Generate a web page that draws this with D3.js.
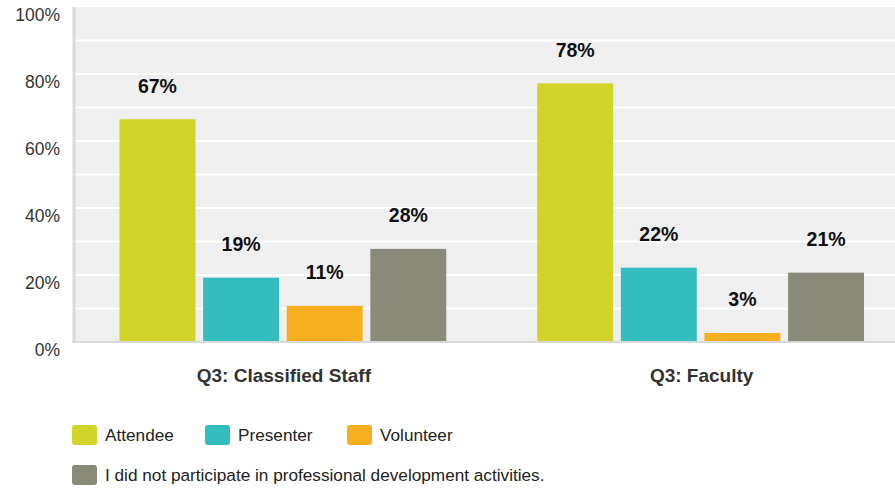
<!DOCTYPE html>
<html>
<head>
<meta charset="utf-8">
<script src="https://cdn.jsdelivr.net/npm/d3@7"></script>
<style>
  html, body { margin: 0; padding: 0; background: #fff; }
  svg { display: block; font-family: Arial, "Liberation Sans", sans-serif; }
</style>
</head>
<body>
<svg id="chart" width="895" height="488"></svg>
<script>
const categories = ["Q3: Classified Staff", "Q3: Faculty"];
const seriesNames = ["Attendee", "Presenter", "Volunteer", "I did not participate in professional development activities."];
const seriesColors = ["#d0d428", "#33bdbf", "#f6b01f", "#8a8a79"];
const attendee = [66.5, 77.2];
const presenter = [19.2, 22.2];
const volunteer = [10.8, 2.7];
const notParticipated = [27.8, 20.7];
const barLabels = [["67%", "19%", "11%", "28%"], ["78%", "22%", "3%", "21%"]];
const yTickValues = [0, 20, 40, 60, 80, 100];
const yTickLabels = ["0%", "20%", "40%", "60%", "80%", "100%"];
const gridValues = [10, 20, 30, 40, 50, 60, 70, 80, 90];

const seriesValues = [attendee, presenter, volunteer, notParticipated];
const data = categories.map((c, i) => ({
  category: c,
  bars: seriesNames.map((s, j) => ({ series: s, value: seriesValues[j][i], label: barLabels[i][j], color: seriesColors[j] }))
}));

const svg = d3.select("#chart");
const plotLeft = 74, plotRight = 909.5, plotTop = 7, plotBottom = 342;

const y = d3.scaleLinear().domain([0, 100]).range([plotBottom, plotTop]);
const x0 = d3.scaleBand().domain(categories).range([plotLeft, plotRight]).padding(0);
const x1 = d3.scaleBand().domain(seriesNames).range([0, x0.bandwidth()]).paddingInner(0.092).paddingOuter(0.544);

// background
svg.append("rect").attr("x", plotLeft).attr("y", plotTop)
  .attr("width", 895 - plotLeft).attr("height", plotBottom - plotTop)
  .attr("fill", "#efefef");

// gridlines
svg.append("g").selectAll("line").data(gridValues).join("line")
  .attr("x1", plotLeft).attr("x2", 895)
  .attr("y1", d => y(d)).attr("y2", d => y(d))
  .attr("stroke", "#ffffff").attr("stroke-width", 2);

// y axis labels
const yAxis = d3.axisLeft(y).tickValues(yTickValues).tickSize(0).tickPadding(0)
  .tickFormat((d, i) => yTickLabels[i]);
const gy = svg.append("g").attr("transform", `translate(60,8)`).call(yAxis);
gy.select(".domain").remove();
gy.selectAll("text").attr("font-size", "17.5px").attr("fill", "#333").attr("font-family", "Arial, 'Liberation Sans', sans-serif");

// bars
const groups = svg.append("g").selectAll("g").data(data).join("g")
  .attr("transform", d => `translate(${x0(d.category)},0)`);
groups.selectAll("rect").data(d => d.bars).join("rect")
  .attr("x", d => x1(d.series)).attr("width", x1.bandwidth())
  .attr("y", d => y(d.value)).attr("height", d => y(0) - y(d.value))
  .attr("fill", d => d.color);
groups.selectAll("text").data(d => d.bars).join("text")
  .attr("x", d => x1(d.series) + x1.bandwidth() / 2)
  .attr("y", d => y(d.value) - 26.5)
  .attr("text-anchor", "middle")
  .attr("font-size", "19.5px").attr("font-weight", "bold").attr("fill", "#111")
  .text(d => d.label);

// axis lines
svg.append("line").attr("x1", plotLeft).attr("x2", plotLeft).attr("y1", plotTop).attr("y2", plotBottom + 1)
  .attr("stroke", "#d9d9d9").attr("stroke-width", 3);
svg.append("line").attr("x1", plotLeft - 1.5).attr("x2", 895).attr("y1", plotBottom).attr("y2", plotBottom)
  .attr("stroke", "#d9d9d9").attr("stroke-width", 2);

// x axis labels
const xAxis = d3.axisBottom(x0).tickSize(0).tickPadding(0);
const gx = svg.append("g").attr("transform", `translate(1,382)`).call(xAxis);
gx.select(".domain").remove();
gx.selectAll("text").attr("dy", 0).attr("font-size", "19px").attr("font-weight", "bold").attr("fill", "#333")
  .attr("font-family", "Arial, 'Liberation Sans', sans-serif");

// legend
const legendItems = [
  { name: seriesNames[0], color: seriesColors[0], x: 72, y: 425 },
  { name: seriesNames[1], color: seriesColors[1], x: 205, y: 425 },
  { name: seriesNames[2], color: seriesColors[2], x: 347, y: 425 },
  { name: seriesNames[3], color: seriesColors[3], x: 72, y: 465 }
];
const lg = svg.append("g").selectAll("g").data(legendItems).join("g")
  .attr("transform", d => `translate(${d.x},${d.y})`);
lg.append("rect").attr("width", 25).attr("height", 20).attr("rx", 3).attr("fill", d => d.color);
lg.append("text").attr("x", 33).attr("y", 16).attr("font-size", "17.2px").attr("fill", "#222").text(d => d.name);
</script>
</body>
</html>
